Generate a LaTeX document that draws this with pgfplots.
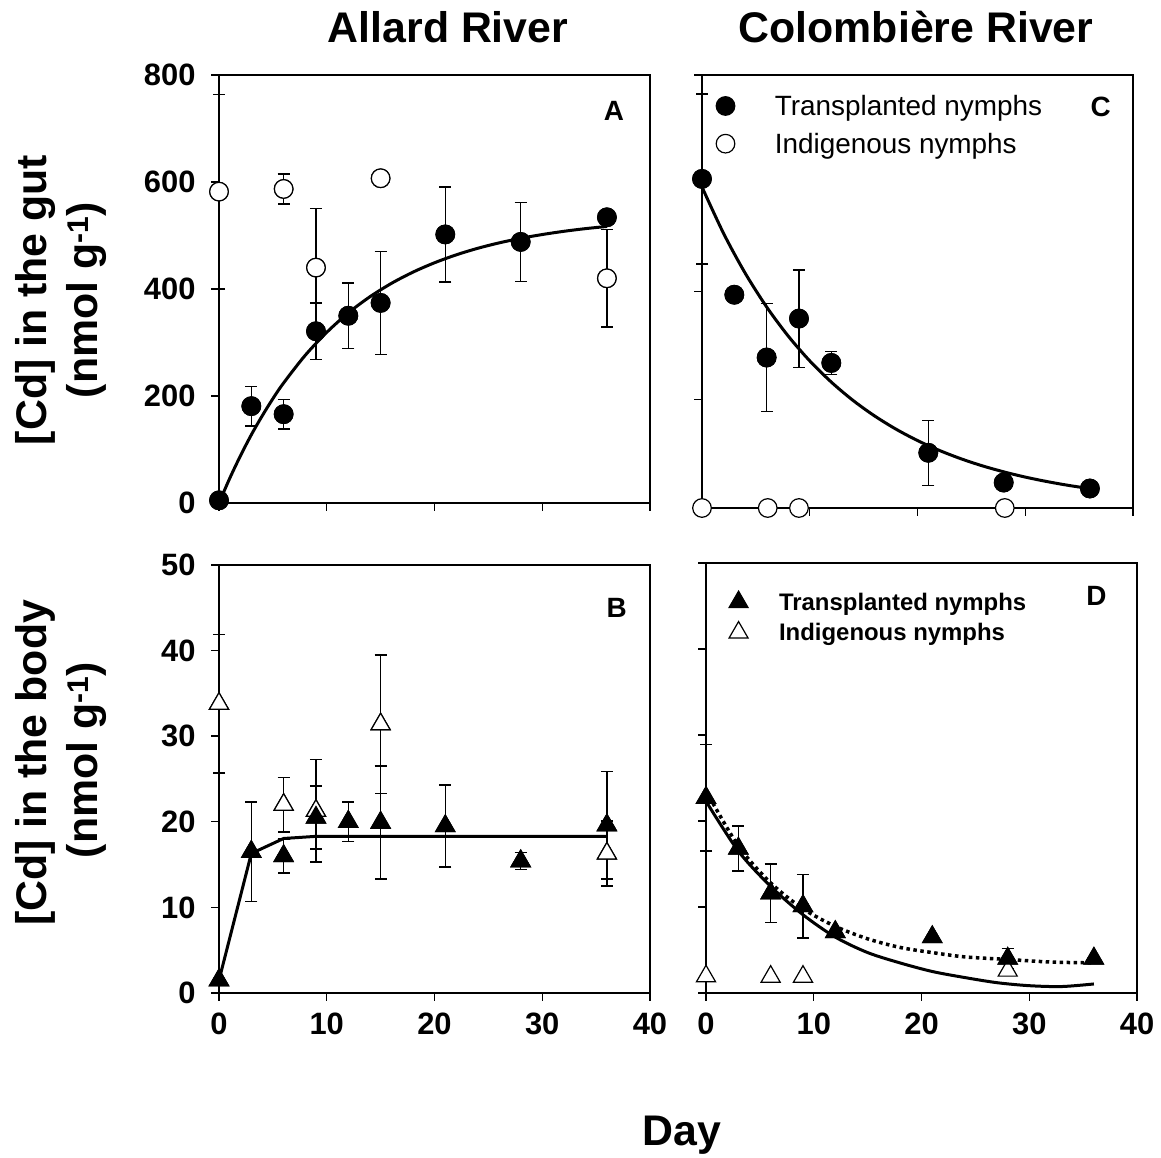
\documentclass[border=0pt]{standalone}
\usepackage{fontspec}
\setmainfont{Liberation Sans}
\usepackage{pgfplots}
\usepackage{pgfplotstable}
\pgfplotsset{compat=1.18}

% ---------- data: day, mean, error ----------
% gut, Allard River
\pgfplotstableread{
d v e
0 5 0
3 181 37
6 166 28
9 321 53
12 350 61
15 374 96
21 502 89
28 488 74
36 534 0
}\gutAT
\pgfplotstableread{
d v e
0 582 182
6 587 28
9 440 110
15 607 0
36 420 91
}\gutAI
\pgfplotstableread{
d v
0 0
1 46.3
2 88.6
3 127.5
4 162.6
5 195
6 224.5
8 276
10 319
12 355.3
14 385.4
16 410.5
18 431.5
20 449
22 463.7
24 476
26 486.2
28 494.7
30 501.8
32 507.8
34 512.8
36 516.9
}\gutAF
% gut, Colombiere River
\pgfplotstableread{
d v e
0 608 157
3 394 0
6 278 100
9 350 90
12 268 21
21 102 60
28 47 0
36 36 0
}\gutCT
\pgfplotstableread{
d v e
0 0 0
6.1 0 0
9 0 0
28.1 0 0
}\gutCI
\pgfplotstableread{
d v
0 593
2 507.4
4 434.1
6 371.4
8 317.7
10 271.8
12 232.6
14 199
16 170.3
18 145.7
20 124.6
22 106.6
24 91.2
26 78
28 66.8
30 57.1
32 48.9
34 41.8
36 35.8
}\gutCF
% body, Allard River
\pgfplotstableread{
d v e
0 1.5 0
3 16.5 5.8
6 16.0 2
9 20.5 3.7
12 20.0 2.3
15 19.9 6.6
21 19.5 4.8
28 15.4 1
36 19.6 6.3
}\bodyAT
\pgfplotstableread{
d v e
0 33.8 8.1
6 22.0 3.2
9 21.3 6
15 31.4 8.1
36 16.3 3.8
}\bodyAI
\pgfplotstableread{
d v
0 1.5
3 16.3
6 18.05
9 18.3
12 18.3
36 18.3
}\bodyAF
% body, Colombiere River
\pgfplotstableread{
d v e
0 22.7 6.2
3 16.8 2.6
6 11.6 3.4
9 10.1 3.7
12 7.1 0
21 6.5 0
28 4.0 1.2
36 4.0 0
}\bodyCT
\pgfplotstableread{
d v e
0 1.95 0
6 1.9 0
9 1.9 0
28 2.6 0
}\bodyCI
\pgfplotstableread{
d v
0 22.3
3 16.5
6 12.4
9 9.1
12 6.5
15 4.7
18 3.5
21 2.5
24 1.8
27 1.2
30 0.85
33 0.75
36 1.05
}\bodyCF
\pgfplotstableread{
d v
0 23.5
3 17.1
6 12.8
9 9.8
12 7.75
15 6.3
18 5.3
21 4.7
24 4.2
28 3.9
32 3.6
36 3.5
}\bodyCG

\tikzset{panel letter/.style={font=\fontsize{28}{28}\selectfont\bfseries}}

\pgfplotsset{
  mk fc/.style={only marks, mark=*, mark size=9.3bp,
    mark options={draw=black, fill=black, line width=1.2bp}},
  mk oc/.style={only marks, mark=*, mark size=9.3bp,
    mark options={draw=black, fill=white, line width=1.2bp}},
  mk ft/.style={only marks, mark=triangle*, mark size=11bp,
    mark options={draw=black, fill=black, line width=1.2bp}},
  mk ot/.style={only marks, mark=triangle*, mark size=11bp,
    mark options={draw=black, fill=white, line width=1.2bp}},
  % error bars with caps; the marks are drawn again on top afterwards
  errs/.style={forget plot,
    error bars/y dir=both, error bars/y explicit,
    error bars/error mark=-,
    error bars/error bar style={line width=1.4bp, black},
    error bars/error mark options={rotate=90, line width=1.4bp, black, mark size=6bp}},
  fitline/.style={forget plot, no marks, black, line width=3bp},
  panel/.style={
    scale only axis, width=431bp, height=428bp,
    xmin=0, xmax=40, xtick={0,10,20,30,40},
    axis line style={line width=1.4bp},
    tick style={line width=1.4bp, black},
    tick align=outside, tick pos=left, major tick length=8bp,
    ticklabel style={font=\fontsize{31}{31}\selectfont\bfseries},
    yticklabel style={xshift=-12bp},
    xticklabel style={yshift=-8bp},
    /pgf/number format/assume math mode=true,
    clip=false,
    legend image code/.code={\draw[##1] plot coordinates {(0bp,0bp)};},
    legend cell align=left,
  },
}

\begin{document}
\begin{tikzpicture}
\useasboundingbox (0bp,0bp) rectangle (1161bp,1158bp);

% A: gut, Allard River
\begin{axis}[panel, at={(219bp,655bp)}, anchor=south west,
  ymin=0, ymax=800, ytick={0,200,...,800}, xticklabels={}]
\addplot[fitline, smooth] table[x=d, y=v] \gutAF;
\addplot[mk oc, errs] table[x=d, y=v, y error=e] \gutAI;
\addplot[mk fc, errs] table[x=d, y=v, y error=e] \gutAT;
\addplot[mk oc, forget plot] table[x=d, y=v] \gutAI;
\addplot[mk fc, forget plot] table[x=d, y=v] \gutAT;
\node[panel letter] at (rel axis cs:0.9165,0.916) {A};
\end{axis}

% C: gut, Colombiere River
\begin{axis}[panel, at={(702bp,650bp)}, anchor=south west, height=433bp,
  ymin=0, ymax=800, ytick={0,200,...,800}, xticklabels={}, yticklabels={},
  legend style={draw=none, fill=none, at={(0.0325,0.954)}, anchor=north west,
    font=\fontsize{28}{28}\selectfont, inner sep=0pt, row sep=16bp,
    nodes={inner sep=0pt},
    /tikz/every odd column/.append style={column sep=40bp}}]
\addplot[fitline, smooth] table[x=d, y=v] \gutCF;
\addplot[mk fc, errs] table[x=d, y=v, y error=e] \gutCT;
\addplot[mk oc, forget plot] table[x=d, y=v] \gutCI;
\addplot[mk fc, forget plot] table[x=d, y=v] \gutCT;
\addlegendimage{mk fc}
\addlegendentry{Transplanted nymphs}
\addlegendimage{mk oc}
\addlegendentry{Indigenous nymphs}
\node[panel letter] at (rel axis cs:0.925,0.926) {C};
\end{axis}

% B: body, Allard River
\begin{axis}[panel, at={(219bp,165bp)}, anchor=south west,
  ymin=0, ymax=50, ytick={0,10,...,50}]
\addplot[fitline] table[x=d, y=v] \bodyAF;
\addplot[mk ot, errs] table[x=d, y=v, y error=e] \bodyAI;
\addplot[mk ft, errs] table[x=d, y=v, y error=e] \bodyAT;
\addplot[mk ot, forget plot] table[x=d, y=v] \bodyAI;
\addplot[mk ft, forget plot] table[x=d, y=v] \bodyAT;
\node[panel letter] at (rel axis cs:0.923,0.9) {B};
\end{axis}

% D: body, Colombiere River
\begin{axis}[panel, at={(706bp,165bp)}, anchor=south west, height=430bp,
  ymin=0, ymax=50, ytick={0,10,...,50}, yticklabels={},
  legend style={draw=none, fill=none, at={(0.053,0.935)}, anchor=north west,
    font=\fontsize{24}{24}\selectfont\bfseries, inner sep=0pt, row sep=10bp,
    nodes={inner sep=0pt},
    /tikz/every odd column/.append style={column sep=31bp}}]
\addplot[fitline, smooth] table[x=d, y=v] \bodyCF;
\addplot[fitline, smooth, line width=3.5bp, dash pattern=on 3.5bp off 3.5bp] table[x=d, y=v] \bodyCG;
\addplot[mk ft, errs] table[x=d, y=v, y error=e] \bodyCT;
\addplot[mk ot, forget plot] table[x=d, y=v] \bodyCI;
\addplot[mk ft, forget plot] table[x=d, y=v] \bodyCT;
\addlegendimage{mk ft}
\addlegendentry{Transplanted nymphs}
\addlegendimage{mk ot}
\addlegendentry{Indigenous nymphs}
\node[panel letter] at (rel axis cs:0.906,0.923) {D};
\end{axis}

% column titles
\node[font=\fontsize{43}{43}\selectfont\bfseries, anchor=base] at (448bp,1115bp) {Allard River};
\node[font=\fontsize{43}{43}\selectfont\bfseries, anchor=base] at (916bp,1115bp) {Colombière River};
% y labels
\node[font=\fontsize{43}{43}\selectfont\bfseries, rotate=90, anchor=base] at (46bp,858bp) {[Cd] in the gut};
\node[font=\fontsize{43}{43}\selectfont\bfseries, rotate=90, anchor=base] at (97bp,858bp) {(nmol g\textsuperscript{-1})};
\node[font=\fontsize{43}{43}\selectfont\bfseries, rotate=90, anchor=base] at (46bp,395bp) {[Cd] in the body};
\node[font=\fontsize{43}{43}\selectfont\bfseries, rotate=90, anchor=base] at (97bp,398bp) {(nmol g\textsuperscript{-1})};
% x label
\node[font=\fontsize{43}{43}\selectfont\bfseries, anchor=base] at (682bp,13bp) {Day};
\end{tikzpicture}
\end{document}
